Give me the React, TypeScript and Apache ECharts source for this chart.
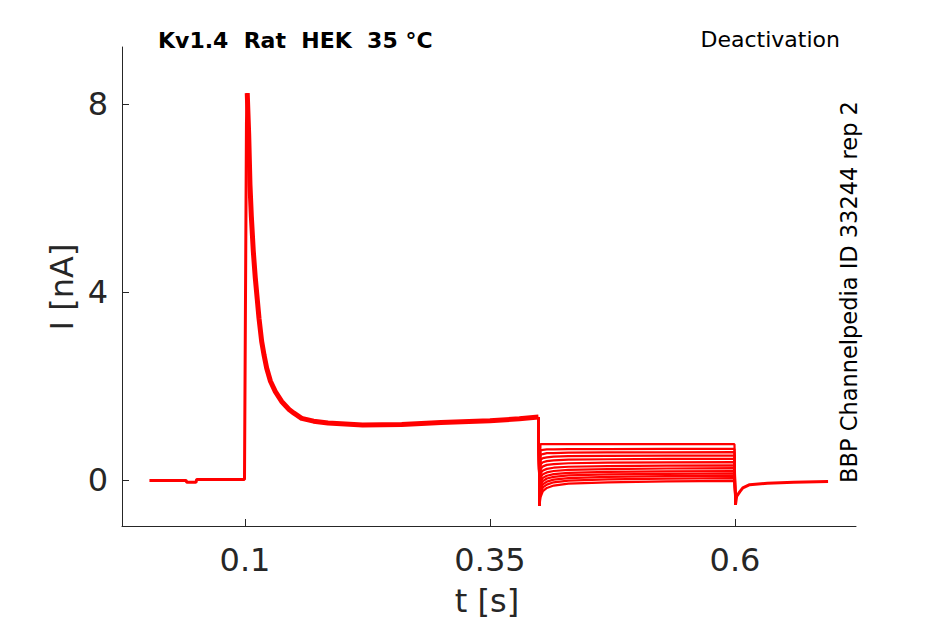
import React, { useEffect, useRef } from "react";
import * as echarts from "echarts";

// Holding + activation onset (all sweeps overlap): time [s], current [nA]
const baseT = [0.0025, 0.02, 0.04, 0.0405, 0.05, 0.0507, 0.07, 0.0995, 0.1, 0.1015, 0.1023];
const baseI = [-0.01, -0.01, -0.01, -0.05, -0.05, 0.01, 0.01, 0.01, 0.02, 7.6, 8.23];

// Inactivating decay during the test pulse (all sweeps overlap)
const decayT = [0.1023, 0.1038, 0.1051, 0.1065, 0.1085, 0.1105, 0.1125, 0.1143, 0.117, 0.1195, 0.1221, 0.126, 0.131, 0.1374, 0.145, 0.15, 0.1578, 0.17, 0.1847, 0.22, 0.26, 0.3, 0.35, 0.38, 0.3995];
const decayI = [8.23, 7.34, 6.28, 5.6, 4.86, 4.3, 3.85, 3.44, 2.95, 2.65, 2.38, 2.1, 1.88, 1.67, 1.5, 1.42, 1.31, 1.25, 1.21, 1.17, 1.18, 1.22, 1.26, 1.3, 1.34];

// Deactivation step (0.4 - 0.6 s), one row per sweep
const tailT = [0.3995, 0.4005, 0.4015, 0.404, 0.408, 0.415, 0.43, 0.47, 0.53, 0.5995, 0.6005];
const sweeps = [
  [1.34, -0.55, 0.76, 0.76, 0.76, 0.76, 0.76, 0.76, 0.76, 0.76, -0.53],
  [1.34, -0.55, 0.63, 0.64, 0.65, 0.65, 0.655, 0.657, 0.66, 0.66, -0.53],
  [1.34, -0.55, 0.53, 0.55, 0.57, 0.57, 0.58, 0.585, 0.588, 0.59, -0.53],
  [1.34, -0.55, 0.43, 0.465, 0.48, 0.495, 0.505, 0.512, 0.517, 0.52, -0.53],
  [1.34, -0.55, 0.33, 0.377, 0.4, 0.417, 0.43, 0.44, 0.446, 0.45, -0.53],
  [1.34, -0.55, 0.23, 0.288, 0.32, 0.338, 0.355, 0.367, 0.375, 0.38, -0.53],
  [1.34, -0.55, 0.14, 0.2, 0.235, 0.26, 0.28, 0.295, 0.304, 0.31, -0.53],
  [1.34, -0.55, 0.05, 0.122, 0.16, 0.19, 0.215, 0.232, 0.243, 0.25, -0.53],
  [1.34, -0.55, -0.04, 0.043, 0.09, 0.123, 0.15, 0.17, 0.182, 0.19, -0.53],
  [1.34, -0.55, -0.12, -0.025, 0.03, 0.065, 0.095, 0.117, 0.131, 0.14, -0.53],
  [1.34, -0.55, -0.2, -0.093, -0.035, 0.007, 0.04, 0.065, 0.08, 0.09, -0.53],
  [1.34, -0.55, -0.28, -0.16, -0.1, -0.05, -0.015, 0.012, 0.029, 0.04, -0.53],
  [1.34, -0.55, -0.37, -0.24, -0.17, -0.12, -0.08, -0.05, -0.032, -0.02, -0.53],
];

// Return to holding potential (all sweeps overlap)
const postT = [0.6005, 0.6017, 0.605, 0.608, 0.615, 0.633, 0.66, 0.695];
const postI = [-0.53, -0.35, -0.25, -0.17, -0.1, -0.07, -0.05, -0.035];

const xTicks = [0.1, 0.35, 0.6];
const yTicks = [0, 4, 8];

const FONT = "DejaVu Sans";
const AX = "#262626";
const RED = "#ff0000";

const zip = (t: number[], v: number[]) => t.map((x, i) => [x, v[i]]);

export default function App() {
  const ref = useRef<HTMLDivElement>(null);
  useEffect(() => {
    if (!ref.current) return;
    const chart = echarts.init(ref.current, null, { renderer: "svg" });
    const lineBase = {
      type: "line",
      showSymbol: false,
      symbol: "none",
      silent: true,
      color: RED,
    };
    const series: any[] = [
      { ...lineBase, data: zip(baseT, baseI), lineStyle: { color: RED, width: 3 } },
      { ...lineBase, data: zip(decayT, decayI), lineStyle: { color: RED, width: 5, join: "round" } },
      ...sweeps.map((s) => ({ ...lineBase, data: zip(tailT, s), lineStyle: { color: RED, width: 2.2 } })),
      { ...lineBase, data: zip(postT, postI), lineStyle: { color: RED, width: 3 } },
    ];
    chart.setOption({
      animation: false,
      backgroundColor: "#ffffff",
      grid: { left: 122, right: 89, top: 47, bottom: 98, containLabel: false },
      xAxis: {
        type: "value",
        min: -0.0255,
        max: 0.7235,
        splitLine: { show: false },
        axisLine: { show: true, onZero: false, lineStyle: { color: AX, width: 1 } },
        axisTick: { show: true, inside: true, length: 7, lineStyle: { color: AX }, customValues: xTicks },
        axisLabel: {
          customValues: xTicks,
          color: AX,
          fontFamily: FONT,
          fontSize: 32,
          margin: 18,
          formatter: (v: number) => String(v),
        },
      },
      yAxis: {
        type: "value",
        min: -0.98,
        max: 9.21,
        splitLine: { show: false },
        axisLine: { show: true, onZero: false, lineStyle: { color: AX, width: 1 } },
        axisTick: { show: true, inside: true, length: 7, lineStyle: { color: AX }, customValues: yTicks },
        axisLabel: {
          customValues: yTicks,
          color: AX,
          fontFamily: FONT,
          fontSize: 32,
          margin: 14,
          formatter: (v: number) => String(v),
        },
      },
      graphic: [
        {
          type: "text",
          x: 158,
          y: 40,
          style: { text: "Kv1.4  Rat  HEK  35 °C", font: `bold 22px '${FONT}'`, fill: "#000", textAlign: "left", textVerticalAlign: "middle" },
        },
        {
          type: "text",
          x: 840,
          y: 39,
          style: { text: "Deactivation", font: `22px '${FONT}'`, fill: "#000", textAlign: "right", textVerticalAlign: "middle" },
        },
        {
          type: "text",
          x: 849,
          y: 292,
          rotation: Math.PI / 2,
          style: { text: "BBP Channelpedia ID 33244 rep 2", font: `22.5px '${FONT}'`, fill: "#000", textAlign: "center", textVerticalAlign: "middle" },
        },
        {
          type: "text",
          x: 62,
          y: 287,
          rotation: Math.PI / 2,
          style: { text: "I [nA]", font: `32px '${FONT}'`, fill: AX, textAlign: "center", textVerticalAlign: "middle" },
        },
        {
          type: "text",
          x: 487,
          y: 601,
          style: { text: "t [s]", font: `32px '${FONT}'`, fill: AX, textAlign: "center", textVerticalAlign: "middle" },
        },
      ],
      series,
    });
    return () => chart.dispose();
  }, []);
  return <div ref={ref} style={{ position: "fixed", left: 0, top: 0, width: 945, height: 624 }} />;
}
